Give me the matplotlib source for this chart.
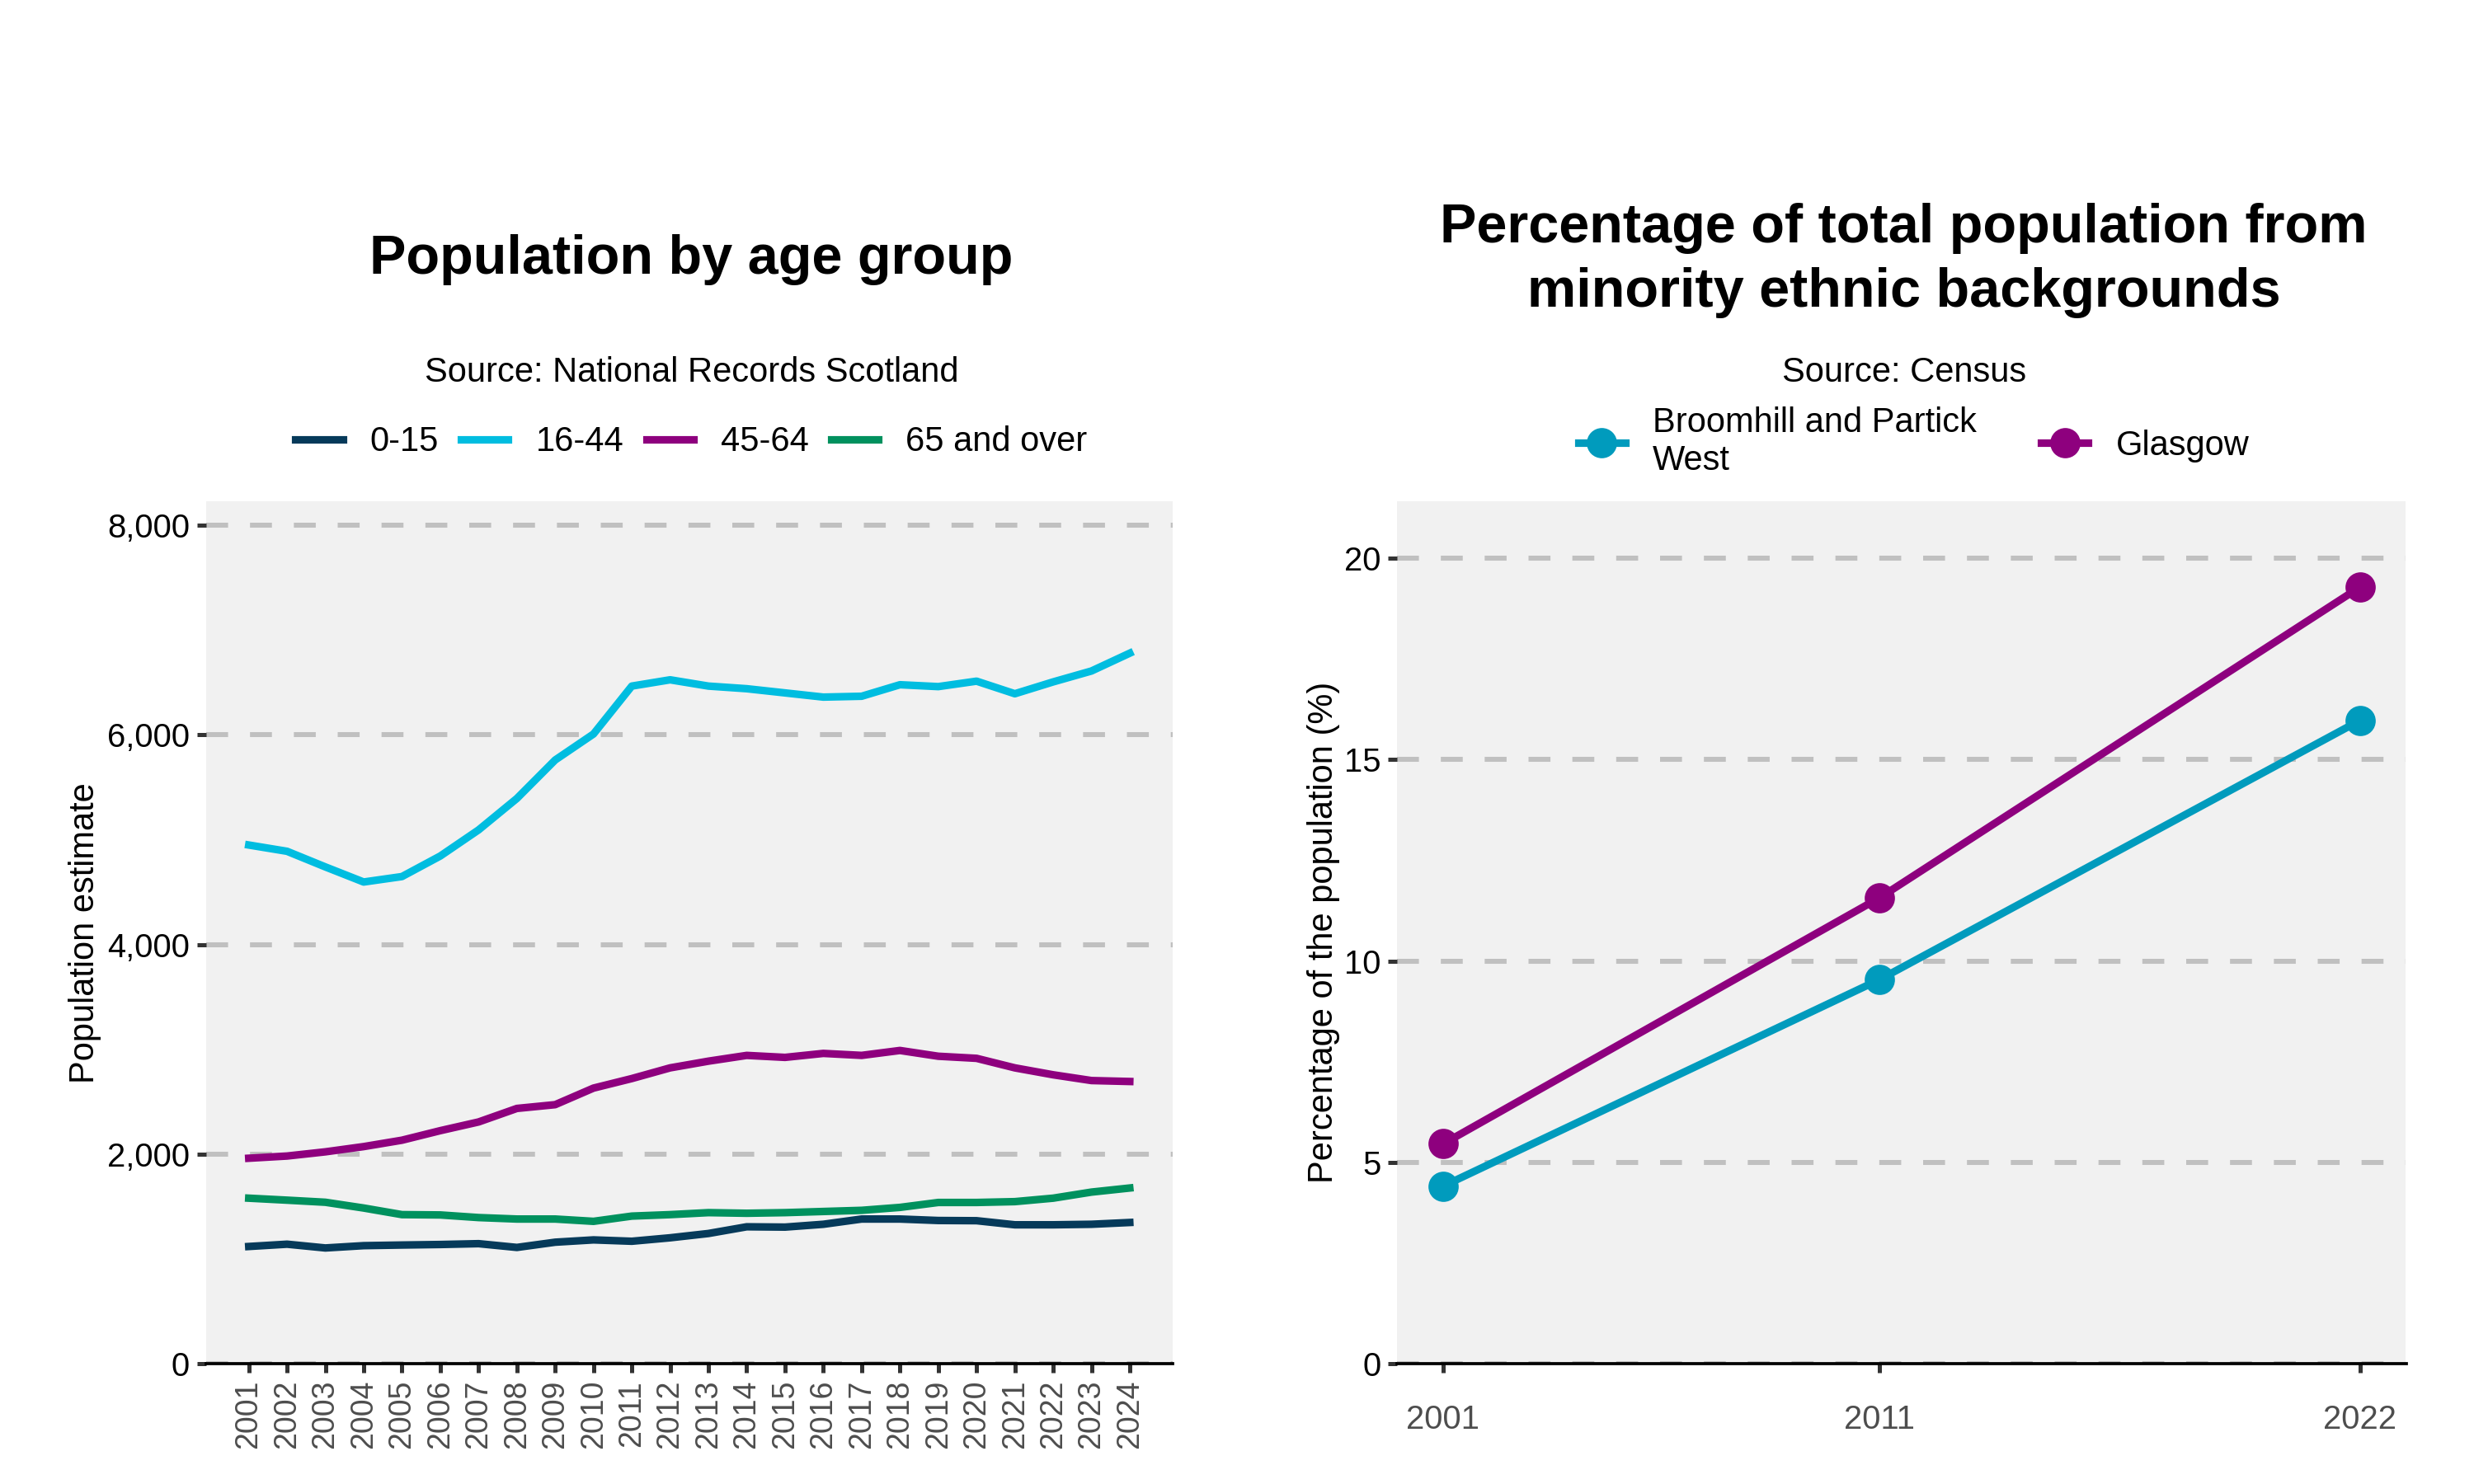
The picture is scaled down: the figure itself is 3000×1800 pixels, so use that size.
import matplotlib.pyplot as plt
from matplotlib.ticker import FuncFormatter

plt.rcParams['font.family'] = ['Liberation Sans', 'DejaVu Sans']

# left chart data
years = list(range(2001, 2025))
age_0_15 = [1119, 1141, 1105, 1127, 1133, 1138, 1146, 1110, 1160, 1182, 1169, 1202,
            1243, 1307, 1304, 1331, 1381, 1381, 1367, 1365, 1326, 1326, 1331, 1348]
age_16_44 = [4949, 4889, 4740, 4596, 4648, 4844, 5093, 5393, 5760, 6008, 6465, 6525,
             6465, 6440, 6400, 6360, 6368, 6478, 6460, 6512, 6392, 6505, 6609, 6779]
age_45_64 = [1961, 1982, 2022, 2072, 2133, 2224, 2307, 2436, 2472, 2630, 2721, 2823,
             2887, 2942, 2923, 2961, 2942, 2989, 2934, 2914, 2823, 2757, 2702, 2693]
age_65_plus = [1580, 1561, 1541, 1486, 1423, 1420, 1395, 1381, 1381, 1359, 1409, 1423,
               1442, 1436, 1442, 1453, 1464, 1492, 1539, 1539, 1547, 1580, 1638, 1677]
age_labels = ['0-15', '16-44', '45-64', '65 and over']
age_colors = ['#063a5a', '#00bde0', '#8e007e', '#00915e']

# right chart data
census_years = [2001, 2011, 2022]
broomhill = [4.41, 9.54, 15.97]
glasgow = [5.46, 11.57, 19.28]

fig = plt.figure(figsize=(10, 6), dpi=300)
ax1 = fig.add_axes([0.0832, 0.081, 0.3908, 0.581])
ax2 = fig.add_axes([0.5648, 0.081, 0.4077, 0.581])

grid_kw = dict(color='#c0c0c0', linewidth=1.45, dashes=(4.4, 4.4))


def style(ax):
    ax.set_facecolor('#f1f1f1')
    for s in ['top', 'right', 'left']:
        ax.spines[s].set_visible(False)
    ax.spines['bottom'].set_linewidth(0.9)
    ax.spines['bottom'].set_zorder(5)
    ax.yaxis.grid(True, **grid_kw)
    ax.set_axisbelow(True)
    ax.tick_params(axis='y', length=2.7, width=1.2, color='#333333', labelsize=9.6,
                   labelcolor='black', pad=2)
    ax.tick_params(axis='x', length=2.7, width=1.2, color='#333333', labelsize=9.6,
                   labelcolor='#4d4d4d', pad=2)


legend_kw = dict(frameon=False, fontsize=10, handlelength=1.37, handletextpad=0.8,
                 borderaxespad=0, borderpad=0)

# left: population by age group
for vals, lab, col in zip([age_0_15, age_16_44, age_45_64, age_65_plus], age_labels, age_colors):
    ax1.plot(years, vals, color=col, linewidth=2.2, label=lab)
style(ax1)
ax1.set_xlim(2001 - 1.12, 2024 + 1.12)
ax1.set_ylim(0, 8225)
ax1.set_yticks([0, 2000, 4000, 6000, 8000])
ax1.yaxis.set_major_formatter(FuncFormatter(lambda v, p: f'{v:,.0f}'))
ax1.set_xticks(years)
ax1.set_xticklabels([str(y) for y in years], rotation=90, fontsize=9)
ax1.set_ylabel('Population estimate', fontsize=10)
ax1.yaxis.set_label_coords(-0.108, 0.5)
fig.text(0.2795, 0.8156, 'Population by age group', ha='center', va='baseline',
         fontsize=16, fontweight='bold')
fig.text(0.2795, 0.7428, 'Source: National Records Scotland', ha='center', va='baseline',
         fontsize=10)
fig.legend(*ax1.get_legend_handles_labels(), loc='center', bbox_to_anchor=(0.2795, 0.702),
           ncol=4, columnspacing=0.65, **legend_kw)

# right: minority ethnic backgrounds
ax2.plot(census_years, broomhill, color='#009bbd', linewidth=2.2, marker='o',
         markersize=7.8, label='Broomhill and Partick\nWest')
ax2.plot(census_years, glasgow, color='#8e007e', linewidth=2.2, marker='o',
         markersize=7.8, label='Glasgow')
style(ax2)
ax2.set_xlim(2001 - 1.05, 2022 + 1.05)
ax2.set_ylim(0, 21.4)
ax2.set_yticks([0, 5, 10, 15, 20])
ax2.set_xticks(census_years)
ax2.tick_params(axis='x', pad=9)
ax2.set_ylabel('Percentage of the population (%)', fontsize=10)
ax2.yaxis.set_label_coords(-0.0564, 0.5)
fig.text(0.7695, 0.7933, 'Percentage of total population from\nminority ethnic backgrounds',
         ha='center', va='baseline', fontsize=16, fontweight='bold', linespacing=1.33)
fig.text(0.7697, 0.7428, 'Source: Census', ha='center', va='baseline', fontsize=10)
fig.legend(*ax2.get_legend_handles_labels(), loc='center', bbox_to_anchor=(0.7735, 0.702),
           ncol=2, columnspacing=1.87, **legend_kw)

fig.savefig('out.png', dpi=300)
